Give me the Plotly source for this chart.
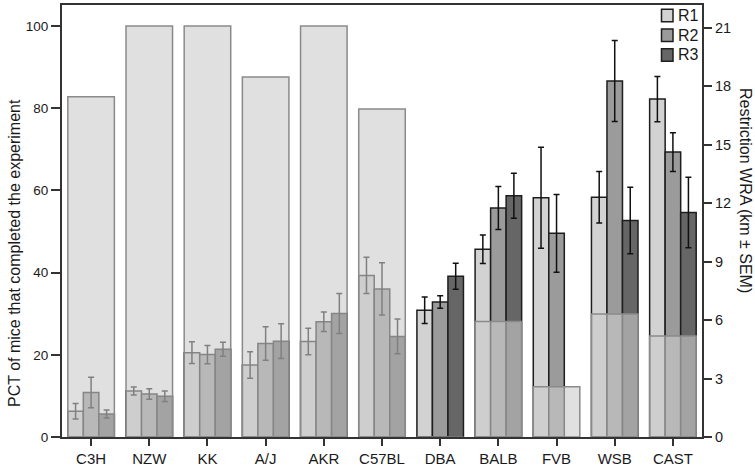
import plotly.graph_objects as go

strains = ["C3H", "NZW", "KK", "A/J", "AKR", "C57BL", "DBA", "BALB", "FVB", "WSB", "CAST"]

# Percentage of mice that completed the experiment (left axis)
pct_completed = [82.8, 100, 100, 87.6, 100, 79.8, 0, 28.1, 12.2, 29.9, 24.6]

# Restriction WRA (km) per round (right axis) with SEM
r1 = [1.32, 2.36, 4.33, 3.70, 4.90, 8.29, 6.51, 9.64, 12.28, 12.30, 17.34]
r1_sem = [0.40, 0.20, 0.56, 0.68, 0.68, 0.93, 0.68, 0.73, 2.59, 1.32, 1.16]
r2 = [2.28, 2.21, 4.23, 4.80, 5.91, 7.60, 6.93, 11.75, 10.45, 18.27, 14.62]
r2_sem = [0.78, 0.27, 0.47, 0.86, 0.50, 1.34, 0.32, 1.10, 1.99, 2.08, 1.00]
r3 = [1.18, 2.09, 4.50, 4.92, 6.34, 5.16, 8.25, 12.38, None, 11.11, 11.52]
r3_sem = [0.21, 0.27, 0.36, 0.89, 1.03, 0.89, 0.67, 1.16, None, 1.71, 1.81]

round_names = ["R1", "R2", "R3"]
round_colors = ["#d2d2d2", "#9b9b9b", "#666666"]

FONT = "Liberation Sans, Arial, sans-serif"
TEXT_COLOR = "#1a1a1a"
GROUP_W = 0.8
BAR_W = GROUP_W / 3

# plot-area geometry in pixels (used for legend / title placement)
W, H = 755, 468
ML, MR, MT, MB = 62, 53, 5, 31
PW, PH = W - ML - MR, H - MT - MB


def px_x(px):
    return (px - ML) / PW


def px_y(py):
    return (H - MB - py) / PH


fig = go.Figure()

for i, (name, vals, sem, col) in enumerate(zip(round_names, [r1, r2, r3], [r1_sem, r2_sem, r3_sem], round_colors)):
    fig.add_trace(go.Bar(
        x=strains, y=vals, name=name,
        width=BAR_W, offset=-GROUP_W / 2 + i * BAR_W,
        marker=dict(color=col, line=dict(color="#1e1e1e", width=1.5)),
        error_y=dict(type="data", array=sem, color="#111111", thickness=1.5, width=3),
        yaxis="y", xaxis="x", showlegend=False,
    ))

fig.add_trace(go.Bar(
    x=strains, y=pct_completed, name="PCT",
    width=GROUP_W, offset=-GROUP_W / 2,
    marker=dict(color="rgba(204,204,204,0.6)", line=dict(color="#8a8a8a", width=1.5)),
    showlegend=False, yaxis="y2", xaxis="x",
))

# custom legend (boxes + labels) to match the compact reference layout
shapes = []
annotations = []
legend_centers = [15.5, 35.2, 55.0]
for name, col, cy in zip(round_names, round_colors, legend_centers):
    shapes.append(dict(
        type="rect", xref="paper", yref="paper",
        x0=px_x(661.5), x1=px_x(673), y0=px_y(cy + 6.3), y1=px_y(cy - 6.3),
        fillcolor=col, line=dict(color="#1e1e1e", width=1.5), layer="above",
    ))
    annotations.append(dict(
        text=name, xref="paper", yref="paper", x=px_x(676), y=px_y(cy),
        xanchor="left", yanchor="middle", showarrow=False,
        font=dict(size=16, family=FONT, color=TEXT_COLOR),
    ))

annotations += [
    dict(text="PCT of mice that completed the experiment", xref="paper", yref="paper",
         x=px_x(14), y=px_y(253), textangle=-90, showarrow=False,
         xanchor="center", yanchor="middle",
         font=dict(size=16, family=FONT, color=TEXT_COLOR)),
    dict(text="Restriction WRA (km ± SEM)", xref="paper", yref="paper",
         x=px_x(745), y=px_y(190), textangle=90, showarrow=False,
         xanchor="center", yanchor="middle",
         font=dict(size=16, family=FONT, color=TEXT_COLOR)),
]

fig.update_layout(
    width=W, height=H,
    margin=dict(l=ML, r=MR, t=MT, b=MB, autoexpand=False),
    paper_bgcolor="white", plot_bgcolor="white",
    barmode="overlay", showlegend=False,
    font=dict(family=FONT, size=14, color=TEXT_COLOR),
    xaxis=dict(
        type="category", showgrid=False, zeroline=False,
        showline=True, linecolor="#333333", linewidth=2, mirror=True,
        ticks="outside", ticklen=7, tickcolor="#333333", tickwidth=1.5,
        tickfont=dict(size=15), automargin=False,
    ),
    yaxis=dict(
        side="right", range=[0, 22.17], tickvals=[0, 3, 6, 9, 12, 15, 18, 21],
        showgrid=False, zeroline=False,
        showline=True, linecolor="#333333", linewidth=2,
        ticks="outside", ticklen=8, tickcolor="#333333", tickwidth=1.5,
        tickfont=dict(size=14.5), automargin=False,
    ),
    yaxis2=dict(
        overlaying="y", side="left", range=[0, 105.1], tickvals=[0, 20, 40, 60, 80, 100],
        showgrid=False, zeroline=False,
        showline=True, linecolor="#333333", linewidth=2,
        ticks="outside", ticklen=9, tickcolor="#333333", tickwidth=1.5,
        tickfont=dict(size=13.5), automargin=False,
    ),
    shapes=shapes,
    annotations=annotations,
)

fig.write_html(
    "out.html",
    config={"displayModeBar": False},
    post_script="document.body.style.margin='0';document.body.style.overflow='hidden';",
)
